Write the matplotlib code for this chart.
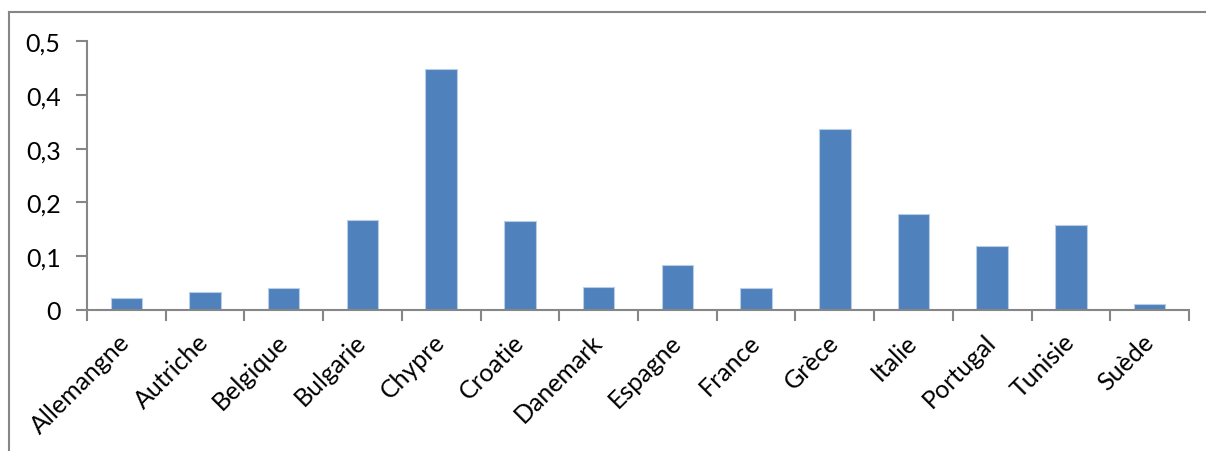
import matplotlib
matplotlib.use("Agg")
import matplotlib.pyplot as plt
from matplotlib.lines import Line2D
from matplotlib.ticker import FuncFormatter

pays = ["Allemangne", "Autriche", "Belgique", "Bulgarie", "Chypre", "Croatie",
        "Danemark", "Espagne", "France", "Grèce", "Italie", "Portugal",
        "Tunisie", "Suède"]
valeurs = [0.022, 0.033, 0.041, 0.167, 0.448, 0.166,
           0.043, 0.084, 0.041, 0.337, 0.179, 0.119,
           0.158, 0.011]

plt.rcParams['font.family'] = ['Lato', 'DejaVu Sans']
gris = "#868686"

fig = plt.figure(figsize=(12.06, 4.52), dpi=100)
ax = fig.add_axes([0.0721, 0.312, 0.9138, 0.595])

x = range(len(pays))
ax.bar(x, valeurs, width=0.4, color="#4F81BD", edgecolor="#B9CDE5", linewidth=0.8)

ax.set_xlim(-0.5, len(pays) - 0.5)
ax.set_ylim(0, 0.5)
ax.set_yticks([0, 0.1, 0.2, 0.3, 0.4, 0.5])
ax.yaxis.set_major_formatter(FuncFormatter(lambda v, p: "0" if v == 0 else f"{v:.1f}".replace(".", ",")))

# ticks on the category boundaries, labels at the centres
ax.set_xticks([i - 0.5 for i in range(len(pays) + 1)])
ax.set_xticklabels([])
ax.set_xticks(list(x), minor=True)
ax.set_xticklabels(pays, minor=True, rotation=45, ha="right", va="center",
                   rotation_mode="anchor")
ax.tick_params(axis="x", which="minor", length=0, pad=20, labelsize=18)
ax.tick_params(axis="x", which="major", length=8, width=1.5, color=gris, direction="out")
ax.tick_params(axis="y", length=8, width=1.5, color=gris, direction="out", pad=11, labelsize=18)

for s in ["top", "right"]:
    ax.spines[s].set_visible(False)
for s in ["left", "bottom"]:
    ax.spines[s].set_color(gris)
    ax.spines[s].set_linewidth(1.5)

# chart frame (only left and top edges visible in the crop)
fig.add_artist(Line2D([0.0075, 0.0075], [0, 0.971], color=gris, lw=1.5, transform=fig.transFigure))
fig.add_artist(Line2D([0.0075, 1.0], [0.971, 0.971], color=gris, lw=1.5, transform=fig.transFigure))

fig.savefig("out.png", dpi=100)
